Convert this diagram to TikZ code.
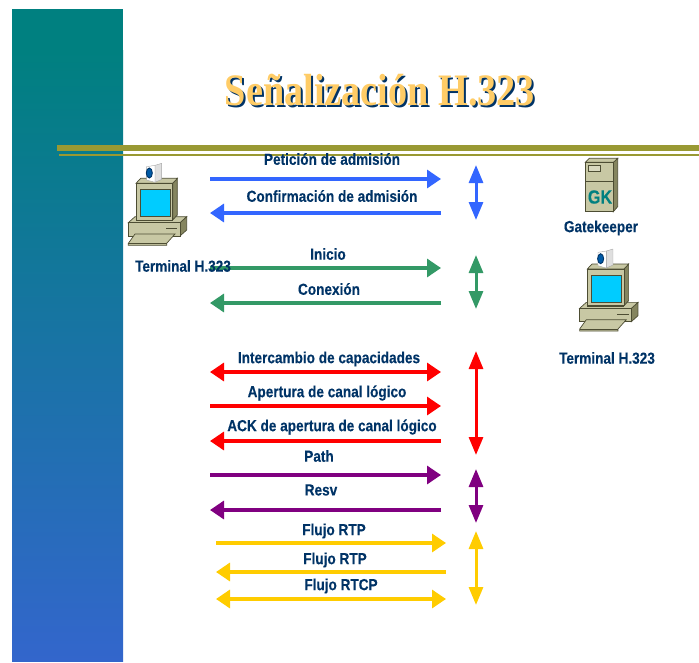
\documentclass[tikz,border=0pt]{standalone}
\usepackage{fontspec}
\setmainfont{Liberation Sans}
\newfontfamily\labelfont[FakeStretch=0.85,FakeBold=0.25]{Liberation Sans}
\newfontfamily\titlefont[FakeStretch=0.85]{Liberation Serif}
\usetikzlibrary{arrows.meta}
\definecolor{navy}{HTML}{003366}
\definecolor{olive}{HTML}{999933}
\definecolor{teal}{HTML}{008080}
\definecolor{beige}{HTML}{C8C8A4}
\definecolor{beigedark}{HTML}{85855F}
\definecolor{edge}{HTML}{4D4D33}
\definecolor{screen}{HTML}{00CCFF}
\definecolor{sigblue}{HTML}{3366FF}
\definecolor{siggreen}{HTML}{339966}
\definecolor{sigpurple}{HTML}{800080}
\definecolor{sigyellow}{HTML}{FFCC00}
\tikzset{
    signal/.style={line width=3.3pt, -{Triangle[length=14pt,width=18pt]}},
    signalboth/.style={line width=3.3pt, {Triangle[length=14pt,width=18pt]}-{Triangle[length=14pt,width=18pt]}},
    signalvert/.style={line width=3pt, {Triangle[length=18pt,width=14pt]}-{Triangle[length=18pt,width=14pt]}},
    label/.style={font=\labelfont\bfseries\fontsize{16}{16}\selectfont, text=navy, inner sep=0pt},
    face/.style={fill=beige, draw=edge, line width=0.7pt},
    side/.style={fill=beigedark, draw=edge, line width=0.7pt},
    terminal/.pic={
        \begin{scope}[scale=1/3]
            \filldraw[side] (180,248) -- (200,230) -- (200,270) -- (180,288) -- cycle;
            \filldraw[face] (25,248) -- (45,230) -- (200,230) -- (180,248) -- cycle;
            \filldraw[face] (25,248) rectangle (180,288);
            \draw[edge, line width=0.9pt] (138,265) -- (172,265);
            \filldraw[face] (25,310) -- (45,282) -- (165,282) -- (140,310) -- (140,316) -- (25,316) -- cycle;
            \draw[edge, line width=0.5pt] (25,310) -- (140,310);
            \filldraw[side] (158,130) -- (172,115) -- (172,225) -- (158,240) -- cycle;
            \filldraw[face] (48,130) -- (62,115) -- (172,115) -- (158,130) -- cycle;
            \filldraw[face] (48,130) rectangle (158,240);
            \filldraw[fill=screen, draw=edge, line width=0.5pt] (60,148) rectangle (150,230);
            \draw[edge, line width=1.2pt] (48,241) -- (158,241);
            % camara
            \filldraw[fill=gray!25, draw=gray!70, line width=0.4pt] (105,76) -- (125,70) -- (125,118) -- (105,127) -- cycle;
            \filldraw[fill=white, draw=gray!70, line width=0.4pt] (80,80) -- (105,76) -- (105,127) -- (80,120) -- cycle;
            \filldraw[fill=teal!70!blue, draw=navy, line width=0.9pt] (88,99) ellipse (9 and 15);
        \end{scope}
    }
}
\begin{document}
\begin{tikzpicture}[x=1pt, y=-1pt]
    \useasboundingbox (0,0) rectangle (699,662);

    \fill[teal] (12,9) rectangle (123,50);
    \shade[top color=teal, bottom color={rgb,255:red,51;green,102;blue,204}] (12,50) rectangle (123,661);

    \fill[olive] (57,145) rectangle (699,151);
    \fill[olive] (59,154) rectangle (699,156);

    \node[font=\titlefont\bfseries\fontsize{45}{45}\selectfont, text=navy, inner sep=0pt] (titleshadow) at (382,92) {Señalización H.323};
    \node[font=\titlefont\bfseries\fontsize{45}{45}\selectfont, text={rgb,255:red,255;green,204;blue,102}, inner sep=0pt] (title) at (380,90) {Señalización H.323};

    \pic at (120,140) {terminal};
    \pic at (571.3,225.7) {terminal};

    % gatekeeper
    \begin{scope}[shift={(550,145)}, scale=1/3]
        \filldraw[side] (190,52) -- (203,40) -- (203,185) -- (190,200) -- cycle;
        \filldraw[face] (106,52) -- (118,40) -- (203,40) -- (190,52) -- cycle;
        \filldraw[face] (106,52) rectangle (190,200);
        \draw[edge, line width=0.7pt] (106,110) -- (190,110);
        \draw[edge, line width=0.5pt, fill=beige!70!white] (114,62) rectangle (152,78);
    \end{scope}
    \node[font=\labelfont\bfseries\fontsize{19}{19}\selectfont, text=teal, inner sep=0pt] (gk) at (600,197) {GK};

    \coordinate (admisionA) at (210,179);
    \coordinate (admisionB) at (441,179);
    \coordinate (confirmA) at (441,213);
    \coordinate (confirmB) at (210,213);
    \coordinate (blueA) at (476,165);
    \coordinate (blueB) at (476,220);
    \coordinate (inicioA) at (210,268);
    \coordinate (inicioB) at (441,268);
    \coordinate (conexionA) at (441,303);
    \coordinate (conexionB) at (210,303);
    \coordinate (greenA) at (476,255);
    \coordinate (greenB) at (476,309);
    \coordinate (capacA) at (210,372);
    \coordinate (capacB) at (441,372);
    \coordinate (aperturaA) at (210,406);
    \coordinate (aperturaB) at (441,406);
    \coordinate (ackA) at (441,441);
    \coordinate (ackB) at (210,441);
    \coordinate (redA) at (476,351);
    \coordinate (redB) at (476,455);
    \coordinate (pathA) at (210,475);
    \coordinate (pathB) at (441,475);
    \coordinate (resvA) at (441,510);
    \coordinate (resvB) at (210,510);
    \coordinate (purpleA) at (476,469);
    \coordinate (purpleB) at (476,523);
    \coordinate (rtpA) at (216,543);
    \coordinate (rtpB) at (446,543);
    \coordinate (rtpbackA) at (446,572);
    \coordinate (rtpbackB) at (216,572);
    \coordinate (rtcpA) at (216,599);
    \coordinate (rtcpB) at (446,599);
    \coordinate (yellowA) at (476,531);
    \coordinate (yellowB) at (476,605);

    \draw[signal, sigblue] (admisionA) -- (admisionB);
    \draw[signal, sigblue] (confirmA) -- (confirmB);
    \draw[signalvert, sigblue] (blueA) -- (blueB);

    \draw[signal, siggreen] (inicioA) -- (inicioB);
    \draw[signal, siggreen] (conexionA) -- (conexionB);
    \draw[signalvert, siggreen] (greenA) -- (greenB);

    \draw[signalboth, red] (capacA) -- (capacB);
    \draw[signal, red] (aperturaA) -- (aperturaB);
    \draw[signal, red] (ackA) -- (ackB);
    \draw[signalvert, red] (redA) -- (redB);

    \draw[signal, sigpurple] (pathA) -- (pathB);
    \draw[signal, sigpurple] (resvA) -- (resvB);
    \draw[signalvert, sigpurple] (purpleA) -- (purpleB);

    \draw[signal, sigyellow] (rtpA) -- (rtpB);
    \draw[signal, sigyellow] (rtpbackA) -- (rtpbackB);
    \draw[signalboth, sigyellow] (rtcpA) -- (rtcpB);
    \draw[signalvert, sigyellow] (yellowA) -- (yellowB);

    \node[label] (lblpeticion) at (332,159) {Petición de admisión};
    \node[label] (lblconfirm) at (332,196) {Confirmación de admisión};
    \node[label] (lblinicio) at (328,254) {Inicio};
    \node[label] (lblconexion) at (329,289) {Conexión};
    \node[label] (lblcapac) at (329,359) {Intercambio de capacidades};
    \node[label] (lblapertura) at (327,393) {Apertura de canal lógico};
    \node[label] (lblack) at (332,427) {ACK de apertura de canal lógico};
    \node[label] (lblpath) at (319,456) {Path};
    \node[label] (lblresv) at (321,490) {Resv};
    \node[label] (lblrtp) at (334,531) {Flujo RTP};
    \node[label] (lblrtpback) at (335,560) {Flujo RTP};
    \node[label] (lblrtcp) at (341,586) {Flujo RTCP};
    \node[label] (lblterminal) at (183,266) {Terminal H.323};
    \node[label] (lblgatekeeper) at (601,228) {Gatekeeper};
    \node[label] (lblterminalb) at (607,358) {Terminal H.323};
\end{tikzpicture}
\end{document}
